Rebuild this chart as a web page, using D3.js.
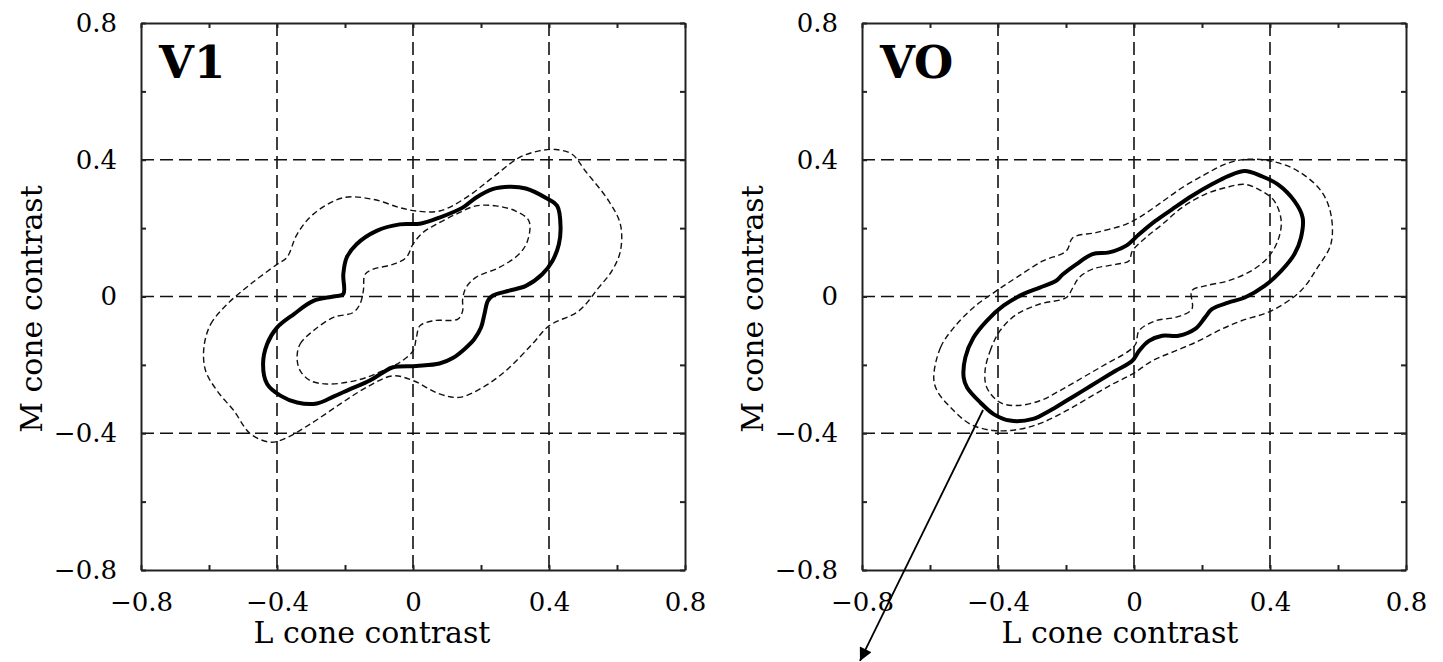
<!DOCTYPE html>
<html>
<head>
<meta charset="utf-8">
<script src="https://cdn.jsdelivr.net/npm/d3@7"></script>
<style>
  body { margin: 0; background: #fff; }
  svg { display: block; font-family: "DejaVu Serif", serif; }
</style>
</head>
<body>
<svg id="chart" width="1443" height="662"></svg>
<script>
// axis values
const tickValues = [-0.8, -0.6, -0.4, -0.2, 0, 0.2, 0.4, 0.6, 0.8];
const tickLabels = ['\u22120.8', '', '\u22120.4', '', '0', '', '0.4', '', '0.8'];
const gridValues = [-0.4, 0, 0.4];

// V1 contours, [L, M] cone contrast
const v1Outer = [[-0.615,-0.149],[-0.595,-0.081],[-0.546,-0.022],[-0.478,0.036],[-0.400,0.094],[-0.371,0.114],
  [-0.341,0.182],[-0.293,0.241],[-0.205,0.289],[-0.117,0.284],[-0.039,0.260],[0.010,0.250],[0.078,0.250],
  [0.156,0.289],[0.234,0.348],[0.312,0.406],[0.371,0.426],[0.420,0.430],[0.468,0.416],[0.507,0.367],
  [0.576,0.279],[0.610,0.211],[0.610,0.133],[0.585,0.075],[0.546,0.026],[0.488,-0.042],[0.400,-0.086],
  [0.351,-0.139],[0.273,-0.217],[0.205,-0.266],[0.137,-0.295],[0.078,-0.285],[0.000,-0.246],[-0.059,-0.232],
  [-0.137,-0.266],[-0.215,-0.315],[-0.302,-0.373],[-0.380,-0.417],[-0.420,-0.426],[-0.478,-0.402],
  [-0.527,-0.334],[-0.576,-0.276],[-0.610,-0.217]];
const v1Mid = [[-0.205,0.007],[-0.205,0.065],[-0.195,0.114],[-0.166,0.153],[-0.107,0.192],[-0.039,0.211],
  [0.020,0.213],[0.078,0.231],[0.146,0.260],[0.185,0.289],[0.234,0.314],[0.283,0.321],[0.332,0.316],
  [0.390,0.289],[0.424,0.265],[0.434,0.202],[0.429,0.153],[0.410,0.104],[0.380,0.065],[0.332,0.031],
  [0.283,0.017],[0.234,0.002],[0.220,-0.013],[0.210,-0.052],[0.200,-0.091],[0.180,-0.125],[0.151,-0.154],
  [0.117,-0.180],[0.078,-0.196],[0.010,-0.203],[-0.059,-0.207],[-0.088,-0.222],[-0.127,-0.246],
  [-0.185,-0.271],[-0.234,-0.293],[-0.283,-0.313],[-0.341,-0.310],[-0.390,-0.290],[-0.429,-0.256],
  [-0.441,-0.198],[-0.429,-0.139],[-0.400,-0.091],[-0.351,-0.052],[-0.293,-0.013],[-0.234,0.000]];
const v1Inner = [[-0.341,-0.178],[-0.332,-0.139],[-0.293,-0.100],[-0.234,-0.061],[-0.176,-0.047],
  [-0.156,-0.022],[-0.146,0.017],[-0.141,0.065],[-0.117,0.080],[-0.059,0.094],[-0.020,0.114],[0.000,0.153],
  [0.029,0.187],[0.068,0.211],[0.127,0.241],[0.185,0.265],[0.244,0.265],[0.302,0.250],[0.341,0.221],
  [0.337,0.163],[0.312,0.124],[0.254,0.085],[0.185,0.056],[0.156,0.026],[0.146,-0.008],[0.146,-0.042],
  [0.132,-0.066],[0.059,-0.071],[0.020,-0.086],[0.010,-0.120],[0.000,-0.159],[-0.039,-0.193],
  [-0.078,-0.212],[-0.137,-0.237],[-0.195,-0.251],[-0.254,-0.256],[-0.302,-0.246],[-0.332,-0.217]];

// VO contours
const voOuter = [[-0.589,-0.237],[-0.569,-0.149],[-0.530,-0.091],[-0.472,-0.032],[-0.404,0.017],[-0.345,0.056],
  [-0.268,0.104],[-0.199,0.133],[-0.180,0.172],[-0.112,0.187],[-0.024,0.211],[0.015,0.231],[0.073,0.270],
  [0.141,0.318],[0.209,0.357],[0.268,0.387],[0.326,0.401],[0.404,0.396],[0.482,0.367],[0.550,0.309],
  [0.579,0.241],[0.579,0.153],[0.540,0.085],[0.491,0.017],[0.404,-0.042],[0.316,-0.071],[0.248,-0.100],
  [0.190,-0.130],[0.122,-0.159],[0.054,-0.188],[-0.005,-0.227],[-0.063,-0.256],[-0.131,-0.295],
  [-0.199,-0.334],[-0.268,-0.368],[-0.336,-0.388],[-0.413,-0.392],[-0.482,-0.373],[-0.540,-0.324],
  [-0.579,-0.276]];
const voMid = [[-0.501,-0.237],[-0.496,-0.178],[-0.472,-0.120],[-0.433,-0.071],[-0.384,-0.027],[-0.326,0.007],
  [-0.277,0.026],[-0.229,0.046],[-0.209,0.065],[-0.170,0.094],[-0.122,0.124],[-0.073,0.129],[-0.024,0.148],
  [0.015,0.182],[0.063,0.221],[0.112,0.255],[0.170,0.294],[0.229,0.328],[0.277,0.352],[0.326,0.367],
  [0.375,0.352],[0.423,0.328],[0.472,0.279],[0.496,0.231],[0.491,0.172],[0.472,0.124],[0.433,0.075],
  [0.384,0.031],[0.326,-0.003],[0.277,-0.018],[0.229,-0.037],[0.209,-0.061],[0.180,-0.095],[0.131,-0.115],
  [0.083,-0.115],[0.044,-0.130],[0.015,-0.159],[-0.005,-0.188],[-0.054,-0.217],[-0.102,-0.246],
  [-0.151,-0.276],[-0.199,-0.305],[-0.248,-0.334],[-0.297,-0.358],[-0.365,-0.363],[-0.413,-0.344],
  [-0.452,-0.310],[-0.491,-0.266]];
const voInner = [[-0.438,-0.217],[-0.423,-0.159],[-0.394,-0.100],[-0.345,-0.052],[-0.277,-0.022],
  [-0.199,-0.003],[-0.180,0.026],[-0.161,0.056],[-0.122,0.080],[-0.054,0.094],[-0.015,0.104],[-0.005,0.133],
  [0.034,0.172],[0.083,0.211],[0.141,0.260],[0.209,0.299],[0.268,0.318],[0.326,0.328],[0.375,0.309],
  [0.413,0.279],[0.433,0.221],[0.423,0.163],[0.394,0.114],[0.345,0.075],[0.277,0.046],[0.209,0.031],
  [0.170,0.017],[0.170,-0.037],[0.122,-0.061],[0.063,-0.071],[0.015,-0.100],[0.005,-0.139],
  [-0.015,-0.159],[-0.083,-0.198],[-0.151,-0.237],[-0.219,-0.276],[-0.277,-0.305],[-0.345,-0.319],
  [-0.394,-0.310],[-0.433,-0.266]];

// arrow annotation in VO panel (from contour point to below the axis)
const voArrow = [[-0.444, -0.332], [-0.806, -1.066]];

const svg = d3.select('#chart');
svg.append('rect').attr('width', 1443).attr('height', 662).attr('fill', '#fff');

const defs = svg.append('defs');
defs.append('marker')
  .attr('id', 'head')
  .attr('viewBox', '0 0 10 10')
  .attr('refX', 10).attr('refY', 5)
  .attr('markerWidth', 17).attr('markerHeight', 13)
  .attr('markerUnits', 'userSpaceOnUse')
  .attr('orient', 'auto')
  .append('path')
  .attr('d', 'M0,0 L10,5 L0,10 Z')
  .attr('fill', '#000');

const W = 544, H = 547;

function drawPanel(opts) {
  const g = svg.append('g').attr('transform', 'translate(' + opts.left + ',' + opts.top + ')');
  const x = d3.scaleLinear().domain([-0.8, 0.8]).range([0, W]);
  const y = d3.scaleLinear().domain([-0.8, 0.8]).range([H, 0]);
  const fmt = function (d, i) { return tickLabels[i]; };

  // dashed grid
  g.selectAll('.vgrid').data(gridValues).enter().append('line')
    .attr('class', 'vgrid')
    .attr('x1', d => x(d)).attr('x2', d => x(d))
    .attr('y1', 0).attr('y2', H)
    .attr('stroke', '#111').attr('stroke-width', 1.6).attr('stroke-dasharray', '13,6');
  g.selectAll('.hgrid').data(gridValues).enter().append('line')
    .attr('class', 'hgrid')
    .attr('y1', d => y(d)).attr('y2', d => y(d))
    .attr('x1', 0).attr('x2', W)
    .attr('stroke', '#111').attr('stroke-width', 1.6).attr('stroke-dasharray', '13,6');

  // axes, ticks pointing in
  const bottom = g.append('g').attr('transform', 'translate(0,' + H + ')')
    .call(d3.axisBottom(x).tickValues(tickValues).tickFormat(fmt).tickSizeInner(-5).tickSizeOuter(0).tickPadding(23));
  const left = g.append('g')
    .call(d3.axisLeft(y).tickValues(tickValues).tickFormat(fmt).tickSizeInner(-5).tickSizeOuter(0).tickPadding(24));
  const top = g.append('g')
    .call(d3.axisTop(x).tickValues(tickValues).tickFormat('').tickSizeInner(-5).tickSizeOuter(0));
  const right = g.append('g').attr('transform', 'translate(' + W + ',0)')
    .call(d3.axisRight(y).tickValues(tickValues).tickFormat('').tickSizeInner(-5).tickSizeOuter(0));

  [bottom, left, top, right].forEach(function (a) {
    a.selectAll('path, line').attr('stroke', '#222').attr('stroke-width', 2);
    a.selectAll('text').attr('fill', '#000').style('font-family', '"DejaVu Serif", serif').style('font-size', '26px');
  });

  // contours
  const line = d3.line()
    .x(d => x(d[0]))
    .y(d => y(d[1]))
    .curve(d3.curveCatmullRomClosed.alpha(0.5));

  g.append('path').attr('d', line(opts.outer))
    .attr('fill', 'none').attr('stroke', '#111').attr('stroke-width', 1.4).attr('stroke-dasharray', '6,3.5');
  g.append('path').attr('d', line(opts.inner))
    .attr('fill', 'none').attr('stroke', '#111').attr('stroke-width', 1.4).attr('stroke-dasharray', '6,3.5');
  g.append('path').attr('d', line(opts.mid))
    .attr('fill', 'none').attr('stroke', '#000').attr('stroke-width', 4).attr('stroke-linejoin', 'round');

  // panel name
  g.append('text')
    .attr('x', 18).attr('y', 55)
    .style('font-size', '45px').style('font-weight', 'bold')
    .text(opts.name);

  // axis titles
  g.append('text')
    .attr('x', opts.xTitleX).attr('y', 620)
    .attr('text-anchor', 'middle')
    .style('font-size', '30px')
    .text('L cone contrast');
  g.append('text')
    .attr('transform', 'translate(' + (-99) + ',' + (286) + ') rotate(-90)')
    .attr('text-anchor', 'middle')
    .style('font-size', '30px')
    .text('M cone contrast');

  if (opts.arrow) {
    g.append('line')
      .attr('x1', x(opts.arrow[0][0])).attr('y1', y(opts.arrow[0][1]))
      .attr('x2', x(opts.arrow[1][0])).attr('y2', y(opts.arrow[1][1]))
      .attr('stroke', '#000').attr('stroke-width', 1.8)
      .attr('marker-end', 'url(#head)');
  }
}

drawPanel({ left: 141, top: 23, name: 'V1', outer: v1Outer, mid: v1Mid, inner: v1Inner, xTitleX: 231 });
drawPanel({ left: 862, top: 23, name: 'VO', outer: voOuter, mid: voMid, inner: voInner, xTitleX: 258, arrow: voArrow });
</script>
</body>
</html>
